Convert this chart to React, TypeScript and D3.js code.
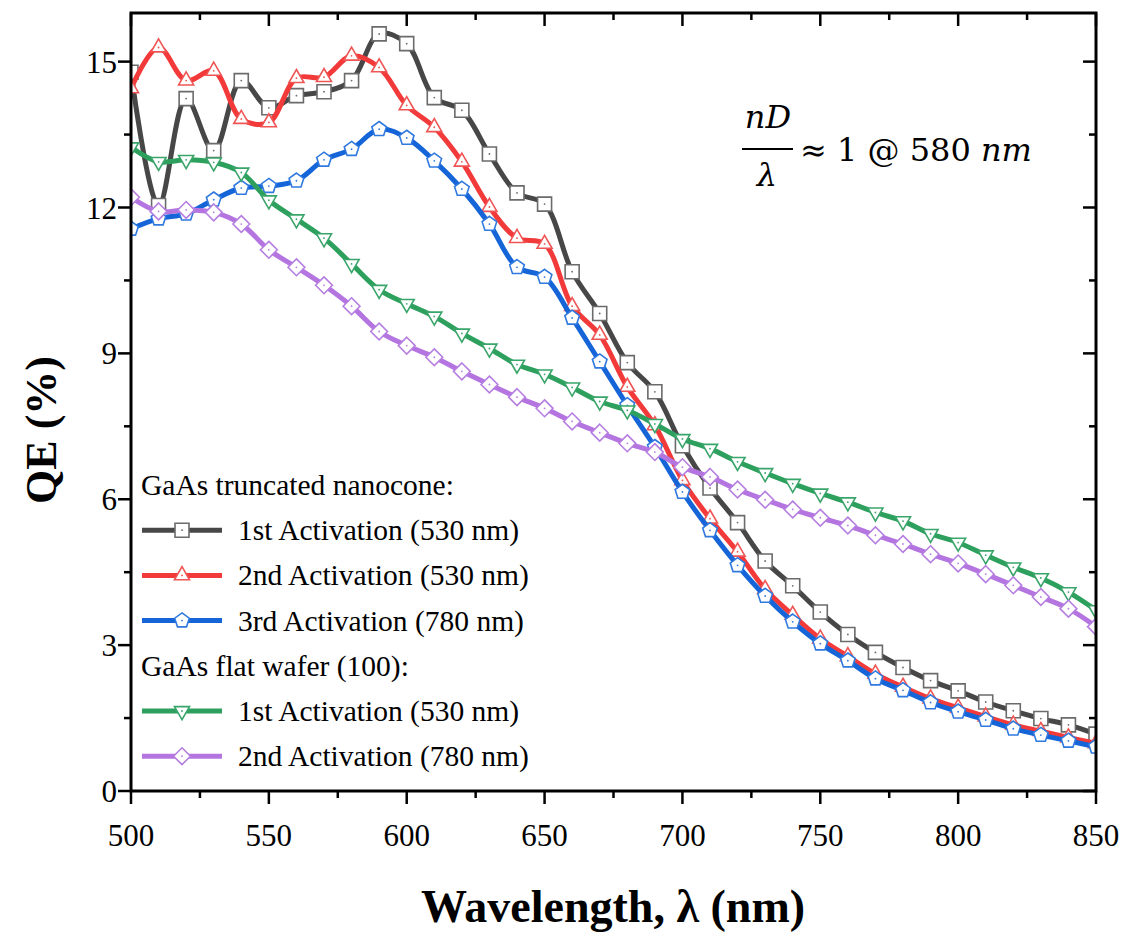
import React from "react";
import * as d3 from "d3";

const wavelengths = d3.range(500, 851, 10);

const tc1st = [14.78, 12.04, 14.24, 13.17, 14.61, 14.05, 14.30, 14.38, 14.61, 15.57, 15.37, 14.26, 14.00, 13.10, 12.30, 12.07, 10.68, 9.82, 8.81, 8.21, 7.10, 6.23, 5.52, 4.73, 4.22, 3.68, 3.22, 2.85, 2.54, 2.27, 2.06, 1.83, 1.65, 1.49, 1.36, 1.17];
const tc2nd = [14.45, 15.29, 14.61, 14.81, 13.82, 13.75, 14.66, 14.68, 15.12, 14.88, 14.10, 13.65, 12.94, 12.01, 11.37, 11.25, 9.97, 9.38, 8.31, 7.52, 6.39, 5.60, 4.92, 4.15, 3.62, 3.13, 2.77, 2.41, 2.14, 1.90, 1.71, 1.53, 1.36, 1.23, 1.10, 0.98];
const tc3rd = [11.56, 11.77, 11.87, 12.16, 12.40, 12.44, 12.55, 12.98, 13.20, 13.61, 13.43, 12.96, 12.38, 11.66, 10.77, 10.57, 9.73, 8.83, 7.93, 7.07, 6.15, 5.36, 4.64, 4.01, 3.48, 3.03, 2.68, 2.31, 2.07, 1.82, 1.63, 1.46, 1.28, 1.15, 1.03, 0.91];
const flat1st = [13.24, 12.94, 12.98, 12.93, 12.72, 12.15, 11.76, 11.37, 10.84, 10.31, 10.02, 9.76, 9.41, 9.10, 8.77, 8.57, 8.30, 8.01, 7.83, 7.55, 7.24, 7.04, 6.77, 6.54, 6.32, 6.12, 5.94, 5.73, 5.55, 5.29, 5.11, 4.85, 4.60, 4.38, 4.09, 3.72];
const flat2nd = [12.21, 11.92, 11.95, 11.90, 11.66, 11.13, 10.77, 10.40, 9.97, 9.45, 9.16, 8.92, 8.63, 8.36, 8.10, 7.87, 7.60, 7.37, 7.15, 6.97, 6.66, 6.46, 6.20, 5.99, 5.79, 5.62, 5.46, 5.26, 5.08, 4.87, 4.68, 4.46, 4.23, 3.99, 3.75, 3.38];

const xTicks = [500, 550, 600, 650, 700, 750, 800, 850];
const xMinorTicks = [525, 575, 625, 675, 725, 775, 825];
const yTicks = [0, 3, 6, 9, 12, 15];
const yMinorTicks = [1.5, 4.5, 7.5, 10.5, 13.5];

const seriesLabels = ["1st Activation (530 nm)", "2nd Activation (530 nm)", "3rd Activation (780 nm)", "1st Activation (530 nm)", "2nd Activation (780 nm)"];
const groupLabels = ["GaAs truncated nanocone:", "GaAs flat wafer (100):"];

type Series = { name: string; values: number[]; line: string; marker: string; shape: string };
const series: Series[] = [
  { name: seriesLabels[0], values: tc1st, line: "#474747", marker: "#6b6b6b", shape: "square" },
  { name: seriesLabels[1], values: tc2nd, line: "#f23a3a", marker: "#f05555", shape: "triangle" },
  { name: seriesLabels[2], values: tc3rd, line: "#1565d8", marker: "#2f79df", shape: "pentagon" },
  { name: seriesLabels[3], values: flat1st, line: "#2ea05e", marker: "#3aa56a", shape: "triangleDown" },
  { name: seriesLabels[4], values: flat2nd, line: "#b475e0", marker: "#b57ee0", shape: "diamond" },
];

const W = 1131, H = 934;
const L = 131, R = 1096, T = 13, B = 791;
const FONT = "'Liberation Serif', 'Times New Roman', serif";
const MATH = "'DejaVu Serif', 'Liberation Serif', serif";

function markerPath(shape: string, s: number): string {
  if (shape === "square") {
    const h = s / 2;
    return `M${-h},${-h}L${h},${-h}L${h},${h}L${-h},${h}Z`;
  }
  if (shape === "triangle" || shape === "triangleDown") {
    const r = s * 0.62;
    const start = shape === "triangle" ? -Math.PI / 2 : Math.PI / 2;
    const pts = [0, 1, 2].map((i) => {
      const a = start + (i * 2 * Math.PI) / 3;
      return [r * Math.cos(a), r * Math.sin(a)];
    });
    return "M" + pts.map((p) => p.join(",")).join("L") + "Z";
  }
  if (shape === "pentagon") {
    const r = s * 0.55;
    const pts = [0, 1, 2, 3, 4].map((i) => {
      const a = -Math.PI / 2 + (i * 2 * Math.PI) / 5;
      return [r * Math.cos(a), r * Math.sin(a)];
    });
    return "M" + pts.map((p) => p.join(",")).join("L") + "Z";
  }
  const r = s * 0.6;
  return `M0,${-r}L${r},0L0,${r}L${-r},0Z`;
}

function Marker({ x, y, shape, color }: { x: number; y: number; shape: string; color: string }) {
  return (
    <g transform={`translate(${x},${y})`}>
      <path d={markerPath(shape, 14)} fill="#fff" stroke={color} strokeWidth={1.6} />
      <circle r={0.9} fill={color} />
    </g>
  );
}

export default function App() {
  const x = d3.scaleLinear().domain([500, 850]).range([L, R]);
  const y = d3.scaleLinear().domain([0, 16]).range([B, T]);
  const line = d3
    .line<number>()
    .x((_, i) => x(wavelengths[i]))
    .y((d) => y(d))
    .curve(d3.curveCatmullRom.alpha(0.5));

  const legendRows = [
    { type: "group", text: groupLabels[0] },
    { type: "s", idx: 0 },
    { type: "s", idx: 1 },
    { type: "s", idx: 2 },
    { type: "group", text: groupLabels[1] },
    { type: "s", idx: 3 },
    { type: "s", idx: 4 },
  ];

  return (
    <svg width={W} height={H} style={{ position: "absolute", left: 0, top: 0, background: "#fff" }} fontFamily={FONT}>
      <rect x={0} y={0} width={W} height={H} fill="#fff" />
      <defs>
        <clipPath id="plotClip">
          <rect x={L} y={T} width={R - L} height={B - T} />
        </clipPath>
      </defs>

      <g clipPath="url(#plotClip)">
        {series.map((s, si) => (
          <g key={si}>
            <path d={line(s.values) || ""} fill="none" stroke={s.line} strokeWidth={5} strokeLinejoin="round" />
            {s.values.map((v, i) => (
              <Marker key={i} x={x(wavelengths[i])} y={y(v)} shape={s.shape} color={s.marker} />
            ))}
          </g>
        ))}
      </g>

      <rect x={L} y={T} width={R - L} height={B - T} fill="none" stroke="#000" strokeWidth={3} />

      {xTicks.map((t) => (
        <g key={"xt" + t}>
          <line x1={x(t)} x2={x(t)} y1={B} y2={B + 13} stroke="#000" strokeWidth={2.5} />
          <line x1={x(t)} x2={x(t)} y1={T} y2={T + 13} stroke="#000" strokeWidth={2.5} />
          <text x={x(t)} y={846} textAnchor="middle" fontSize={31} fill="#000">{t}</text>
        </g>
      ))}
      {xMinorTicks.map((t) => (
        <g key={"xm" + t}>
          <line x1={x(t)} x2={x(t)} y1={B} y2={B + 7} stroke="#000" strokeWidth={2.5} />
          <line x1={x(t)} x2={x(t)} y1={T} y2={T + 7} stroke="#000" strokeWidth={2.5} />
        </g>
      ))}
      {yTicks.map((t) => (
        <g key={"yt" + t}>
          <line x1={L - 13} x2={L} y1={y(t)} y2={y(t)} stroke="#000" strokeWidth={2.5} />
          <line x1={R - 13} x2={R} y1={y(t)} y2={y(t)} stroke="#000" strokeWidth={2.5} />
          <text x={117} y={y(t) + 11} textAnchor="end" fontSize={31} fill="#000">{t}</text>
        </g>
      ))}
      {yMinorTicks.map((t) => (
        <g key={"ym" + t}>
          <line x1={L - 7} x2={L} y1={y(t)} y2={y(t)} stroke="#000" strokeWidth={2.5} />
          <line x1={R - 7} x2={R} y1={y(t)} y2={y(t)} stroke="#000" strokeWidth={2.5} />
        </g>
      ))}

      <text x={613} y={922} textAnchor="middle" fontSize={46} fontWeight="bold" fill="#000">
        Wavelength, λ (nm)
      </text>
      <text transform="translate(56,430) rotate(-90)" textAnchor="middle" fontSize={44} fontWeight="bold" fill="#000">
        QE (%)
      </text>

      {legendRows.map((row, i) => {
        const cy = 485 + i * 45.2;
        if (row.type === "group") {
          return (
            <text key={i} x={141} y={cy + 10} fontSize={29.5} fill="#000">{row.text}</text>
          );
        }
        const s = series[row.idx as number];
        return (
          <g key={i}>
            <line x1={142} x2={222} y1={cy} y2={cy} stroke={s.line} strokeWidth={5} />
            <Marker x={182} y={cy} shape={s.shape} color={s.marker} />
            <text x={238} y={cy + 10} fontSize={29.5} fill="#000">{s.name}</text>
          </g>
        );
      })}

      <g fill="#000" fontSize={32} fontFamily={MATH}>
        <text x={768} y={128} textAnchor="middle" fontStyle="italic">nD</text>
        <line x1={742} x2={793} y1={149} y2={149} stroke="#000" strokeWidth={2.2} />
        <text x={767} y={186} textAnchor="middle" fontStyle="italic">λ</text>
        <text x={800} y={161}>≈ 1 @ 580 <tspan fontStyle="italic">nm</tspan></text>
      </g>
    </svg>
  );
}
